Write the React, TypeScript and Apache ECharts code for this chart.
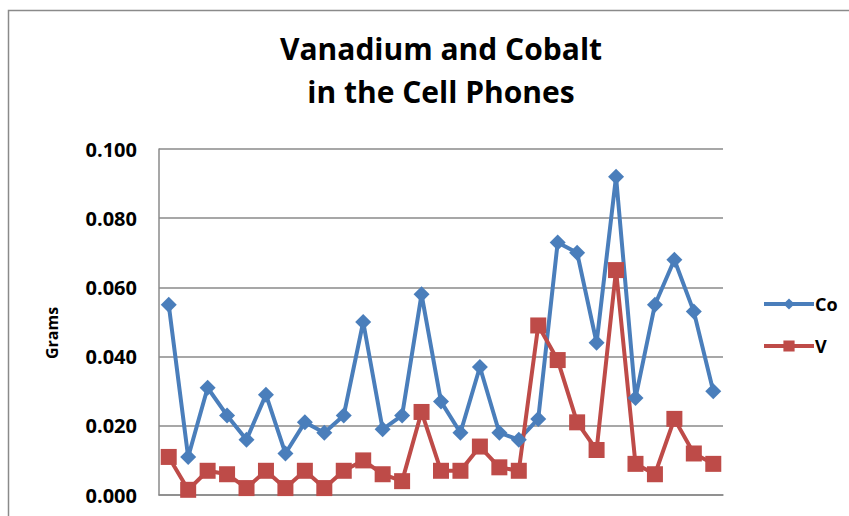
import React, { useEffect, useRef } from "react";
import * as echarts from "echarts";

const categories = [
  "1", "2", "3", "4", "5", "6", "7", "8", "9", "10",
  "11", "12", "13", "14", "15", "16", "17", "18", "19", "20",
  "21", "22", "23", "24", "25", "26", "27", "28", "29",
];
const coValues = [
  0.055, 0.011, 0.031, 0.023, 0.016, 0.029, 0.012, 0.021, 0.018, 0.023,
  0.050, 0.019, 0.023, 0.058, 0.027, 0.018, 0.037, 0.018, 0.016, 0.022,
  0.073, 0.070, 0.044, 0.092, 0.028, 0.055, 0.068, 0.053, 0.030,
];
const vValues = [
  0.011, 0.0015, 0.007, 0.006, 0.002, 0.007, 0.002, 0.007, 0.002, 0.007,
  0.010, 0.006, 0.004, 0.024, 0.007, 0.007, 0.014, 0.008, 0.007, 0.049,
  0.039, 0.021, 0.013, 0.065, 0.009, 0.006, 0.022, 0.012, 0.009,
];

const FONT = "'Open Sans', Lato, sans-serif";
const CO_COLOR = "#4a7ebb";
const V_COLOR = "#be4b48";

export default function App() {
  const ref = useRef<HTMLDivElement>(null);
  useEffect(() => {
    if (!ref.current) return;
    const chart = echarts.init(ref.current, null, { renderer: "svg" });
    chart.setOption({
      animation: false,
      backgroundColor: "#ffffff",
      title: {
        text: "Vanadium and Cobalt\nin the Cell Phones",
        left: 436,
        top: 22,
        textAlign: "center",
        textStyle: {
          fontFamily: FONT,
          fontWeight: "bold",
          fontSize: 30,
          lineHeight: 43,
          color: "#000000",
        },
      },
      graphic: [
        {
          type: "rect",
          shape: { x: 8.5, y: 10.5, width: 900, height: 600 },
          style: { fill: "none", stroke: "#8a8a8a", lineWidth: 1.5 },
          silent: true,
        },
        {
          type: "text",
          x: 52,
          y: 333,
          rotation: Math.PI / 2,
          style: {
            text: "Grams",
            fontFamily: FONT,
            fontWeight: "bold",
            fontSize: 16,
            fill: "#000000",
            align: "center",
            verticalAlign: "middle",
          },
          silent: true,
        },
      ],
      legend: {
        orient: "vertical",
        left: 757,
        top: 290,
        itemWidth: 50,
        itemHeight: 14,
        itemGap: 24,
        textStyle: {
          fontFamily: FONT,
          fontWeight: "bold",
          fontSize: 18,
          color: "#000000",
          padding: [0, 0, 0, -4],
        },
        data: [
          { name: "Co", lineStyle: { width: 4, color: CO_COLOR } },
          { name: "V", lineStyle: { width: 4, color: V_COLOR } },
        ],
      },
      grid: { left: 159, right: 126, top: 149, bottom: 21, containLabel: false },
      xAxis: {
        type: "category",
        data: categories,
        boundaryGap: true,
        axisLine: { show: true, lineStyle: { color: "#8a8a8a", width: 1.5 } },
        axisTick: { show: false },
        axisLabel: { show: false },
        splitLine: { show: false },
      },
      yAxis: {
        type: "value",
        min: 0,
        max: 0.1,
        interval: 0.02,
        axisLine: { show: true, lineStyle: { color: "#8a8a8a", width: 1.5 } },
        axisTick: { show: false },
        axisLabel: {
          margin: 22,
          fontFamily: FONT,
          fontWeight: "bold",
          fontSize: 20,
          color: "#000000",
          formatter: (v: number) => v.toFixed(3),
        },
        splitLine: { show: true, lineStyle: { color: "#8a8a8a", width: 1.5 } },
      },
      series: [
        {
          name: "Co",
          type: "line",
          data: coValues,
          symbol: "diamond",
          symbolSize: 16,
          showSymbol: true,
          showAllSymbol: true,
          lineStyle: { color: CO_COLOR, width: 4 },
          itemStyle: { color: CO_COLOR },
        },
        {
          name: "V",
          type: "line",
          data: vValues,
          symbol: "rect",
          symbolSize: 16,
          showSymbol: true,
          showAllSymbol: true,
          lineStyle: { color: V_COLOR, width: 4 },
          itemStyle: { color: V_COLOR },
        },
      ],
    });
    return () => chart.dispose();
  }, []);
  return (
    <div
      ref={ref}
      style={{ position: "absolute", left: 0, top: 0, width: 849, height: 516 }}
    />
  );
}
